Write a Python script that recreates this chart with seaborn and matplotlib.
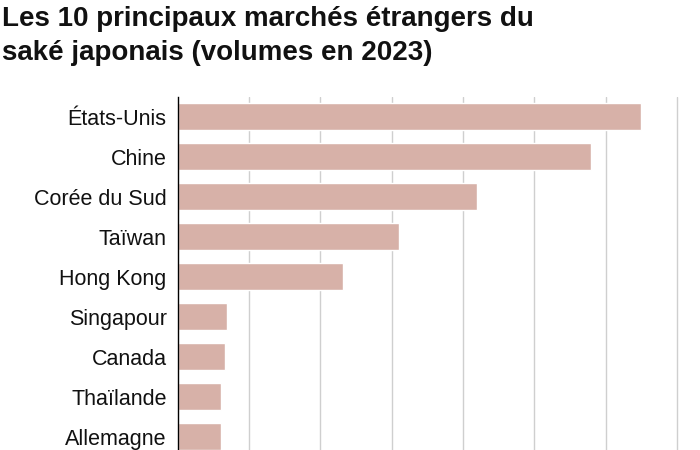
import numpy as np
import pandas as pd
import seaborn as sns
import matplotlib.pyplot as plt

# Volumes (kL; one grid step = 1000)
pays = ['États-Unis', 'Chine', 'Corée du Sud', 'Taïwan', 'Hong Kong',
        'Singapour', 'Canada', 'Thaïlande', 'Allemagne']
volumes = [6490, 5790, 4190, 3100, 2320, 690, 660, 610, 600]

df = pd.DataFrame({'pays': pays, 'volume': volumes})

sns.set_theme(style='white')
plt.rcParams['font.family'] = ['Liberation Sans', 'DejaVu Sans']

fig = plt.figure(figsize=(7, 4.5), dpi=100)
# axes runs past the bottom of the figure, like the cropped original
ax = fig.add_axes([0.254, -0.104, 0.746, 0.889])

sns.barplot(data=df, x='volume', y='pays', color='#d7b1a8', width=0.68,
            saturation=1, ax=ax, zorder=2)

ax.set_xlim(0, 7320)
ax.set_ylim(9.5, -0.5)
ax.set_xticks(np.arange(1000, 7001, 1000))
ax.grid(axis='x', color='#cfcfcf', linewidth=1, zorder=0)
ax.set_axisbelow(True)
ax.set_xlabel('')
ax.set_ylabel('')
ax.tick_params(axis='x', labelbottom=False, length=0)
ax.tick_params(axis='y', length=0, pad=8, labelsize=15.5, labelcolor='#111111')
for s in ['top', 'right', 'bottom']:
    ax.spines[s].set_visible(False)
ax.spines['left'].set_color('black')
ax.spines['left'].set_linewidth(1)
ax.spines['left'].set_zorder(3)

fig.text(0.003, 0.986, 'Les 10 principaux marchés étrangers du\nsaké japonais (volumes en 2023)',
         ha='left', va='top', fontsize=20, fontweight='bold', color='#111111',
         linespacing=1.4)

fig.savefig('out.png', dpi=100)
